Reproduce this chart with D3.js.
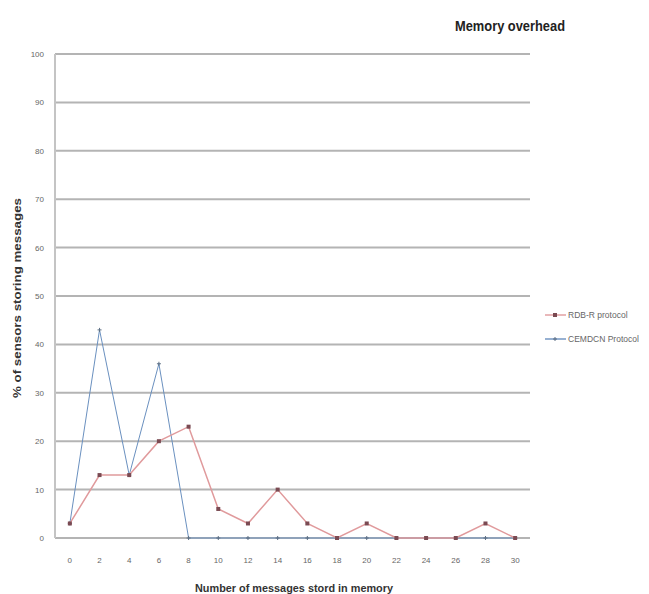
<!DOCTYPE html>
<html><head><meta charset="utf-8">
<script src="https://cdn.jsdelivr.net/npm/d3@7"></script>
<style>body{margin:0;background:#fff;} svg{display:block;}</style>
</head><body>
<svg id="chart" width="649" height="594"></svg>
<script>
const categories = ["0","2","4","6","8","10","12","14","16","18","20","22","24","26","28","30"];
const rdbValues = [3,13,13,20,23,6,3,10,3,0,3,0,0,0,3,0];
const cemdcnValues = [3,43,13,36,0,0,0,0,0,0,0,0,0,0,0,0];
const yTicks = [0,10,20,30,40,50,60,70,80,90,100];
const seriesNames = ["RDB-R protocol","CEMDCN Protocol"];

const svg = d3.select("#chart");
const pLeft = 55, pRight = 530, pTop = 54, pBottom = 538;
const x = d3.scalePoint().domain(categories).range([pLeft, pRight]).padding(0.5);
const y = d3.scaleLinear().domain([0,100]).range([pBottom, pTop]);
const FONT = "Liberation Sans, sans-serif";

// gridlines
svg.append("g").selectAll("line").data(yTicks).join("line")
  .attr("x1", pLeft).attr("x2", pRight)
  .attr("y1", d => y(d)).attr("y2", d => y(d))
  .attr("stroke", "#b4b4b4").attr("stroke-width", 2);
// y axis line
svg.append("line").attr("x1", pLeft).attr("x2", pLeft).attr("y1", pTop).attr("y2", pBottom)
  .attr("stroke", "#c4c4c4").attr("stroke-width", 2);

// y tick labels
svg.append("g").selectAll("text").data(yTicks).join("text")
  .attr("x", 44).attr("y", d => y(d) + 3)
  .attr("text-anchor", "end").attr("font-family", FONT)
  .attr("font-size", 8).attr("fill", "#666").text(d => d);
// x tick labels
svg.append("g").selectAll("text").data(categories).join("text")
  .attr("x", d => x(d)).attr("y", 563)
  .attr("text-anchor", "middle").attr("font-family", FONT)
  .attr("font-size", 8).attr("fill", "#666").text(d => d);

const line = d3.line().x((d,i) => x(categories[i])).y(d => y(d));

// blue series
svg.append("path").datum(cemdcnValues).attr("d", line)
  .attr("fill", "none").attr("stroke", "#6a90bf").attr("stroke-width", 1);
svg.append("g").selectAll("path").data(cemdcnValues).join("path")
  .attr("d", (d,i) => { const cx = x(categories[i]), cy = y(d); return `M${cx-2},${cy}H${cx+2}M${cx},${cy-2}V${cy+2}`; })
  .attr("stroke", "#5c6f84").attr("stroke-width", 1);

// red series
svg.append("path").datum(rdbValues).attr("d", line)
  .attr("fill", "none").attr("stroke", "#e09a9c").attr("stroke-width", 1.5);
svg.append("g").selectAll("rect").data(rdbValues).join("rect")
  .attr("x", (d,i) => x(categories[i]) - 2).attr("y", d => y(d) - 2)
  .attr("width", 4).attr("height", 4).attr("fill", "#7a4a52");

// title
svg.append("text").attr("x", 455).attr("y", 31)
  .attr("font-family", FONT).attr("font-weight", "bold")
  .attr("textLength", 110).attr("lengthAdjust", "spacingAndGlyphs")
  .attr("font-size", 15).attr("fill", "#222").text("Memory overhead");

// axis titles
svg.append("text").attr("x", 195).attr("y", 592)
  .attr("font-family", FONT).attr("font-weight", "bold")
  .attr("textLength", 198).attr("lengthAdjust", "spacingAndGlyphs")
  .attr("font-size", 11).attr("fill", "#333").text("Number of messages stord in memory");
svg.append("text").attr("transform", "translate(21,398) rotate(-90)")
  .attr("font-family", FONT).attr("font-weight", "bold")
  .attr("textLength", 200).attr("lengthAdjust", "spacingAndGlyphs")
  .attr("font-size", 10).attr("fill", "#333").text("% of sensors storing messages");

// legend
const lg = svg.append("g");
const colors = ["#e09a9c", "#6a90bf"];
seriesNames.forEach((n, i) => {
  const ly = 315 + i * 24;
  lg.append("line").attr("x1", 545).attr("x2", 566).attr("y1", ly).attr("y2", ly)
    .attr("stroke", colors[i]).attr("stroke-width", 1.4);
  if (i === 0) lg.append("rect").attr("x", 553).attr("y", ly - 2).attr("width", 4).attr("height", 4).attr("fill", "#7a4a52");
  else lg.append("path").attr("d", `M553,${ly}H557M555,${ly-2}V${ly+2}`).attr("stroke", "#5c6f84");
  lg.append("text").attr("x", 568).attr("y", ly + 3)
    .attr("font-family", FONT)
    .attr("font-size", 8.5).attr("fill", "#666").text(n);
});
</script>
</body></html>
